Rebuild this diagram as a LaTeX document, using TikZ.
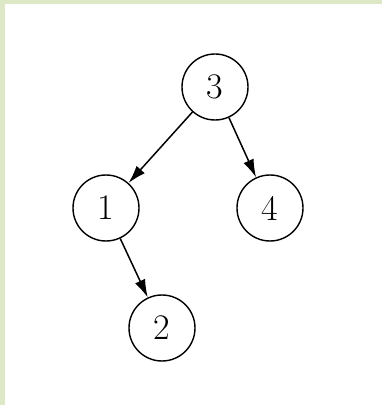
\documentclass[tikz,border=0pt]{standalone}
\usetikzlibrary{arrows.meta}
\definecolor{bggreen}{HTML}{DCE8C6}
\tikzset{
  treenode/.style={circle,draw=black,line width=1.4pt,minimum size=66pt,inner sep=0pt,font=\fontsize{36}{40}\selectfont},
  edge/.style={line width=1.5pt,-{Latex[length=18pt,width=11pt]}}
}
\begin{document}
\begin{tikzpicture}[x=1pt,y=1pt]
\fill[bggreen] (0,0) rectangle (382,405);
\fill[white] (5,0) rectangle (382,401);
\useasboundingbox (0,0) rectangle (382,405);
\node[treenode] (n3) at (215,318) {3};
\node[treenode] (n1) at (106,197) {1};
\node[treenode] (n4) at (270,197) {4};
\node[treenode] (n2) at (162,77) {2};
\draw[edge] (n3) -- (n1);
\draw[edge] (n3) -- (n4);
\draw[edge] (n1) -- (n2);
\end{tikzpicture}
\end{document}
